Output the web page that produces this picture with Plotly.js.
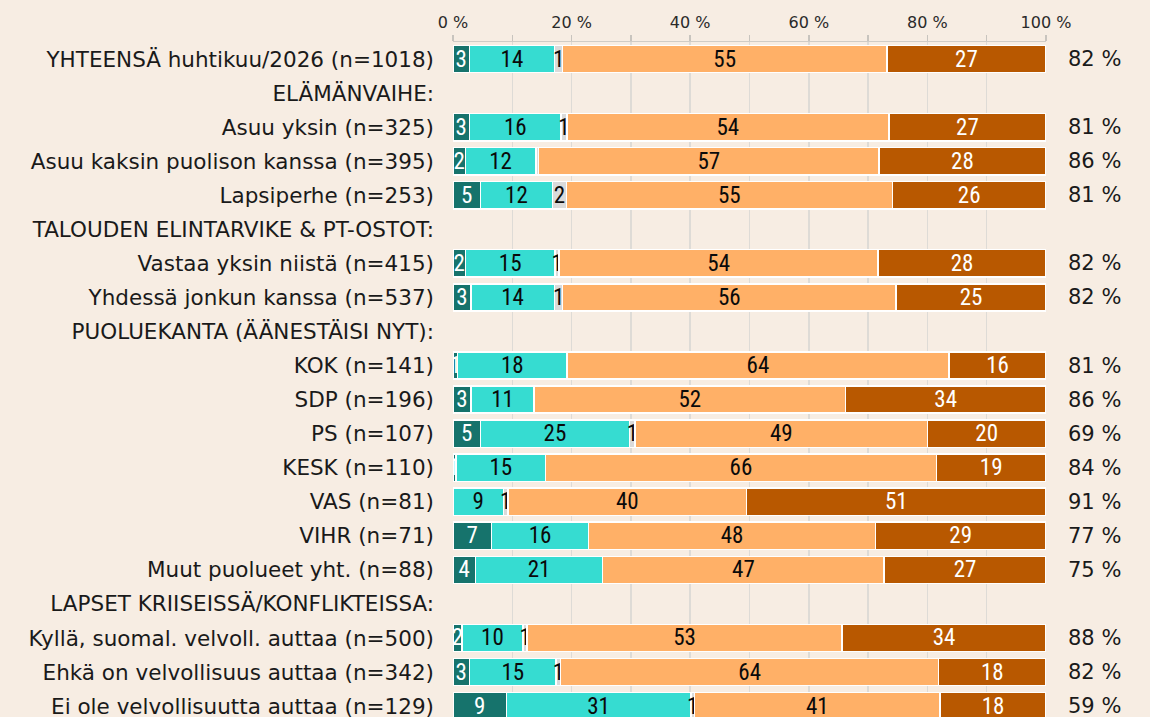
<!DOCTYPE html>
<html>
<head>
<meta charset="utf-8">
<script src="https://cdn.plot.ly/plotly-3.0.1.min.js"></script>
<style>
  html, body { margin: 0; padding: 0; background: #f7ede3; }
  #chart { width: 1150px; height: 717px; }
</style>
</head>
<body>
<div id="chart"></div>
<script>
// Row labels (top to bottom)
const categories = [
  "YHTEENSÄ huhtikuu/2026 (n=1018)",
  "ELÄMÄNVAIHE:",
  "Asuu yksin (n=325)",
  "Asuu kaksin puolison kanssa (n=395)",
  "Lapsiperhe (n=253)",
  "TALOUDEN ELINTARVIKE & PT-OSTOT:",
  "Vastaa yksin niistä (n=415)",
  "Yhdessä jonkun kanssa (n=537)",
  "PUOLUEKANTA (ÄÄNESTÄISI NYT):",
  "KOK (n=141)",
  "SDP (n=196)",
  "PS (n=107)",
  "KESK (n=110)",
  "VAS (n=81)",
  "VIHR (n=71)",
  "Muut puolueet yht. (n=88)",
  "LAPSET KRIISEISSÄ/KONFLIKTEISSA:",
  "Kyllä, suomal. velvoll. auttaa (n=500)",
  "Ehkä on velvollisuus auttaa (n=342)",
  "Ei ole velvollisuutta auttaa (n=129)"
];

// Series values (%), null = header row
const s1 = [2.75, null, 2.75, 2.07, 4.6, null, 2.1, 3.0, null, 0.8, 3.0, 4.6, 0.5, 0, 6.5, 3.8, null, 1.5, 2.75, 9.0];
const s2 = [14.38, null, 15.5, 11.91, 12.2, null, 15.1, 14.1, null, 18.4, 10.7, 25.17, 15.1, 8.5, 16.36, 21.45, null, 10.3, 14.66, 31.1];
const s3 = [1.35, null, 0.95, 0.45, 2.3, null, 0.7, 1.4, null, 0, 0, 0.96, 0, 0.8, 0, 0, null, 0.7, 0.73, 0.6];
const s4 = [54.67, null, 54.3, 57.4, 55.0, null, 53.8, 56.2, null, 64.45, 52.47, 49.27, 65.9, 40.2, 48.38, 47.45, null, 53.1, 63.77, 41.45];
const s5 = [26.85, null, 26.5, 28.17, 25.9, null, 28.3, 25.3, null, 16.35, 33.83, 20.0, 18.5, 50.5, 28.76, 27.3, null, 34.4, 18.09, 17.85];

// Right-hand totals
const totals = [82, null, 81, 86, 81, null, 82, 82, null, 81, 86, 69, 84, 91, 77, 75, null, 88, 82, 59];

// X tick labels
const xTickVals = [0, 10, 20, 30, 40, 50, 60, 70, 80, 90, 100];
const xTickText = ["0 %", "", "20 %", "", "40 %", "", "60 %", "", "80 %", "", "100 %"];

const series = [s1, s2, s3, s4, s5];
const colors = ["#16736c", "#36dcd1", "#dadada", "#ffb067", "#b85800"];
const textColors = ["#ffffff", "#0a0a0a", "#0a0a0a", "#0a0a0a", "#ffffff"];

const idx = categories.map((_, i) => i);
const barFont = "'Roboto Condensed', 'Liberation Sans Narrow', 'DejaVu Sans Condensed', Roboto, sans-serif";
const labelFont = "'DejaVu Sans', sans-serif";

const traces = series.map((vals, k) => ({
  type: "bar",
  orientation: "h",
  y: idx,
  x: vals,
  width: 0.8,
  marker: { color: colors[k], line: { color: "#ffffff", width: 1.5 } },
  text: vals.map(v => (v == null || Math.round(v) <= 0) ? "" : String(Math.round(v))),
  textposition: "inside",
  insidetextanchor: "middle",
  textangle: 0,
  constraintext: "none",
  insidetextfont: { family: barFont, size: 23, color: textColors[k] },
  hoverinfo: "skip",
  showlegend: false
}));

const annotations = [];
totals.forEach((t, i) => {
  if (t == null) return;
  annotations.push({
    xref: "paper", yref: "y",
    x: 1.0337, y: i,
    xanchor: "left", yanchor: "middle",
    text: t + " %",
    showarrow: false,
    font: { family: labelFont, size: 21, color: "#1a1a1a" }
  });
});

const layout = {
  width: 1150, height: 717,
  barmode: "stack",
  bargap: 0.2,
  paper_bgcolor: "#f7ede3",
  plot_bgcolor: "#f7ede3",
  margin: { l: 453, r: 104, t: 42, b: 0, pad: 0 },
  showlegend: false,
  xaxis: {
    side: "top",
    range: [0, 100],
    tickvals: xTickVals,
    ticktext: xTickText,
    showgrid: true,
    gridcolor: "#dedbd6",
    gridwidth: 1.5,
    zeroline: false,
    showline: true,
    linecolor: "#d0ccc6",
    linewidth: 1.5,
    ticks: "outside",
    ticklen: 6,
    tickcolor: "#c8c4be",
    tickwidth: 1.5,
    tickfont: { family: labelFont, size: 16, color: "#2a2a2a" },
    fixedrange: true
  },
  yaxis: {
    range: [19.32, -0.5],
    tickvals: idx,
    ticktext: categories,
    ticks: "",
    showgrid: false,
    zeroline: false,
    showline: false,
    ticklabelstandoff: 18,
    ticklabeloverflow: "allow",
    tickfont: { family: labelFont, size: 21.5, color: "#1a1a1a" },
    fixedrange: true
  },
  annotations: annotations
};

Plotly.newPlot("chart", traces, layout, { displayModeBar: false, staticPlot: true });
</script>
</body>
</html>
